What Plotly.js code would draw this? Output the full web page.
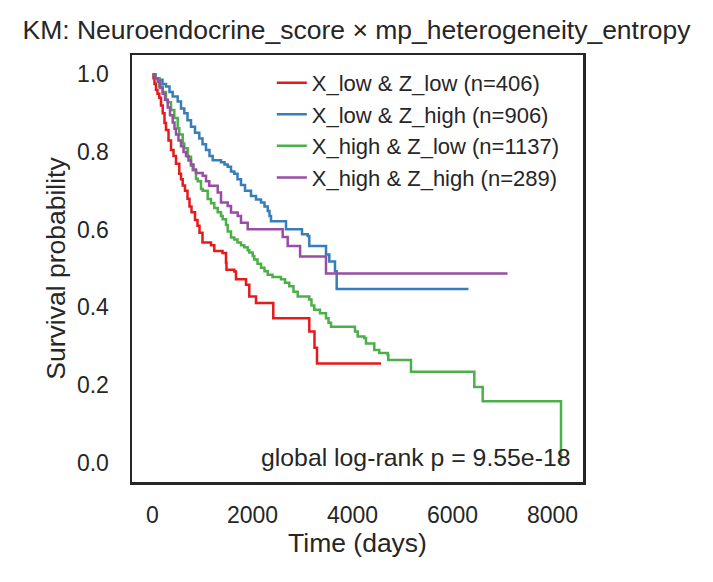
<!DOCTYPE html>
<html>
<head>
<meta charset="utf-8">
<script src="https://cdn.plot.ly/plotly-3.0.1.min.js"></script>
<style>html,body{margin:0;padding:0;background:#fff;}#chart{width:713px;height:582px;}</style>
</head>
<body>
<div id="chart"></div>
<script>
// Kaplan-Meier step curves: event times (days) and survival after each step
const groupNames = ["X_low & Z_low (n=406)", "X_low & Z_high (n=906)", "X_high & Z_low (n=1137)", "X_high & Z_high (n=289)"];
const groupColors = ["#e41a1c", "#377eb8", "#4daf4a", "#984ea3"];

const lowLowT = [0, 20, 40, 70, 100, 136, 170, 204, 240, 270, 320, 370, 420, 470, 536, 570, 604, 650, 700, 740, 780, 850, 900, 940, 1000, 1170, 1236, 1400, 1470, 1480, 1636, 1670, 1870, 1936, 2070, 2416, 3136, 3240, 3290, 4570];
const lowLowS = [1.0, 0.99, 0.975, 0.96, 0.95, 0.94, 0.92, 0.90, 0.875, 0.857, 0.83, 0.805, 0.79, 0.77, 0.744, 0.73, 0.714, 0.70, 0.68, 0.66, 0.645, 0.625, 0.61, 0.592, 0.567, 0.560, 0.545, 0.540, 0.515, 0.497, 0.492, 0.472, 0.458, 0.428, 0.411, 0.372, 0.338, 0.296, 0.255, 0.255];

const lowHighT = [0, 60, 136, 200, 270, 340, 404, 504, 570, 636, 700, 770, 850, 936, 1000, 1070, 1140, 1204, 1370, 1440, 1504, 1570, 1636, 1700, 1770, 1850, 1970, 2070, 2170, 2240, 2304, 2340, 2370, 2670, 2990, 3104, 3136, 3470, 3536, 3650, 3684, 6320];
const lowHighS = [1.0, 0.99, 0.986, 0.975, 0.969, 0.955, 0.943, 0.930, 0.912, 0.900, 0.882, 0.865, 0.85, 0.835, 0.82, 0.805, 0.79, 0.779, 0.774, 0.768, 0.762, 0.75, 0.744, 0.73, 0.715, 0.70, 0.687, 0.678, 0.670, 0.66, 0.648, 0.635, 0.622, 0.601, 0.588, 0.584, 0.558, 0.536, 0.518, 0.493, 0.447, 0.447];

const highLowT = [0, 60, 136, 204, 270, 304, 370, 436, 504, 536, 604, 636, 704, 770, 804, 870, 904, 970, 1004, 1104, 1170, 1236, 1304, 1370, 1404, 1470, 1504, 1570, 1636, 1700, 1770, 1836, 1904, 1936, 2004, 2036, 2100, 2170, 2240, 2304, 2400, 2570, 2650, 2736, 2820, 2904, 3136, 3180, 3236, 3350, 3470, 3520, 3570, 4050, 4104, 4236, 4270, 4436, 4536, 4704, 4716, 5170, 6436, 6604, 8170];
const highLowS = [1.0, 0.99, 0.969, 0.955, 0.934, 0.928, 0.908, 0.888, 0.861, 0.845, 0.822, 0.81, 0.788, 0.765, 0.753, 0.731, 0.725, 0.705, 0.70, 0.679, 0.668, 0.656, 0.645, 0.635, 0.627, 0.612, 0.595, 0.580, 0.575, 0.567, 0.560, 0.555, 0.547, 0.541, 0.532, 0.523, 0.512, 0.502, 0.493, 0.484, 0.478, 0.472, 0.463, 0.454, 0.44, 0.428, 0.420, 0.405, 0.394, 0.385, 0.372, 0.36, 0.350, 0.338, 0.325, 0.321, 0.307, 0.290, 0.282, 0.277, 0.264, 0.234, 0.195, 0.158, 0.0];

const highHighT = [0, 50, 104, 150, 204, 250, 304, 350, 404, 440, 470, 520, 570, 620, 670, 720, 770, 820, 870, 1004, 1070, 1136, 1304, 1370, 1504, 1570, 1704, 1770, 1904, 2604, 2704, 2952, 3470, 7100];
const highHighS = [1.0, 0.99, 0.981, 0.965, 0.950, 0.935, 0.915, 0.895, 0.876, 0.86, 0.845, 0.83, 0.815, 0.80, 0.79, 0.778, 0.768, 0.755, 0.746, 0.739, 0.725, 0.713, 0.696, 0.670, 0.661, 0.644, 0.635, 0.618, 0.601, 0.581, 0.558, 0.531, 0.487, 0.487];

const xTickVals = [0, 2000, 4000, 6000, 8000];
const xTickText = ["0", "2000", "4000", "6000", "8000"];
const yTickVals = [0.0, 0.2, 0.4, 0.6, 0.8, 1.0];
const yTickText = ["0.0", "0.2", "0.4", "0.6", "0.8", "1.0"];

const titleText = "KM: Neuroendocrine_score × mp_heterogeneity_entropy";
const pText = "global log-rank p = 9.55e-18";

const seriesT = [lowLowT, lowHighT, highLowT, highHighT];
const seriesS = [lowLowS, lowHighS, highLowS, highHighS];

const FONT = "Liberation Sans, Arial, Helvetica, sans-serif";
const INK = "#262626";

const traces = seriesT.map((t, i) => ({
  x: t, y: seriesS[i], type: "scatter", mode: "lines",
  name: groupNames[i],
  line: {color: groupColors[i], width: 2.5, shape: "hv"}
}));

const layout = {
  width: 713, height: 582,
  margin: {l: 132, r: 130, t: 55, b: 100, pad: 0},
  paper_bgcolor: "#ffffff", plot_bgcolor: "#ffffff",
  font: {family: FONT, color: INK, size: 22},
  title: {text: titleText, font: {size: 26.5, color: INK, family: FONT}, x: 0.5, xanchor: "center", y: 0.949, yanchor: "middle"},
  xaxis: {
    range: [-410, 8610], tickvals: xTickVals, ticktext: xTickText,
    showgrid: false, zeroline: false, ticks: "", ticklabelstandoff: 11,
    showline: true, mirror: true, linecolor: INK, linewidth: 2.5,
    tickfont: {size: 23, color: INK, family: FONT},
    title: {text: "Time (days)", font: {size: 26.5, color: INK, family: FONT}, standoff: 6},
    automargin: false
  },
  yaxis: {
    range: [-0.05, 1.05], tickvals: yTickVals, ticktext: yTickText,
    showgrid: false, zeroline: false, ticks: "", ticklabelstandoff: 16,
    showline: true, mirror: true, linecolor: INK, linewidth: 2.5,
    tickfont: {size: 23, color: INK, family: FONT},
    title: {text: "Survival probability", font: {size: 26.5, color: INK, family: FONT}, standoff: 4},
    automargin: false
  },
  legend: {
    x: 0.31, xanchor: "left", y: 0.984, yanchor: "top",
    bgcolor: "rgba(255,255,255,0)", borderwidth: 0,
    font: {size: 22, color: INK, family: FONT},
    tracegroupgap: 0
  },
  showlegend: true,
  annotations: [{
    text: pText, xref: "paper", yref: "paper", x: 0.977, y: 0.022,
    xanchor: "right", yanchor: "bottom", showarrow: false,
    font: {size: 24.8, color: INK, family: FONT}
  }]
};

Plotly.newPlot("chart", traces, layout, {displayModeBar: false, staticPlot: true});
</script>
</body>
</html>
